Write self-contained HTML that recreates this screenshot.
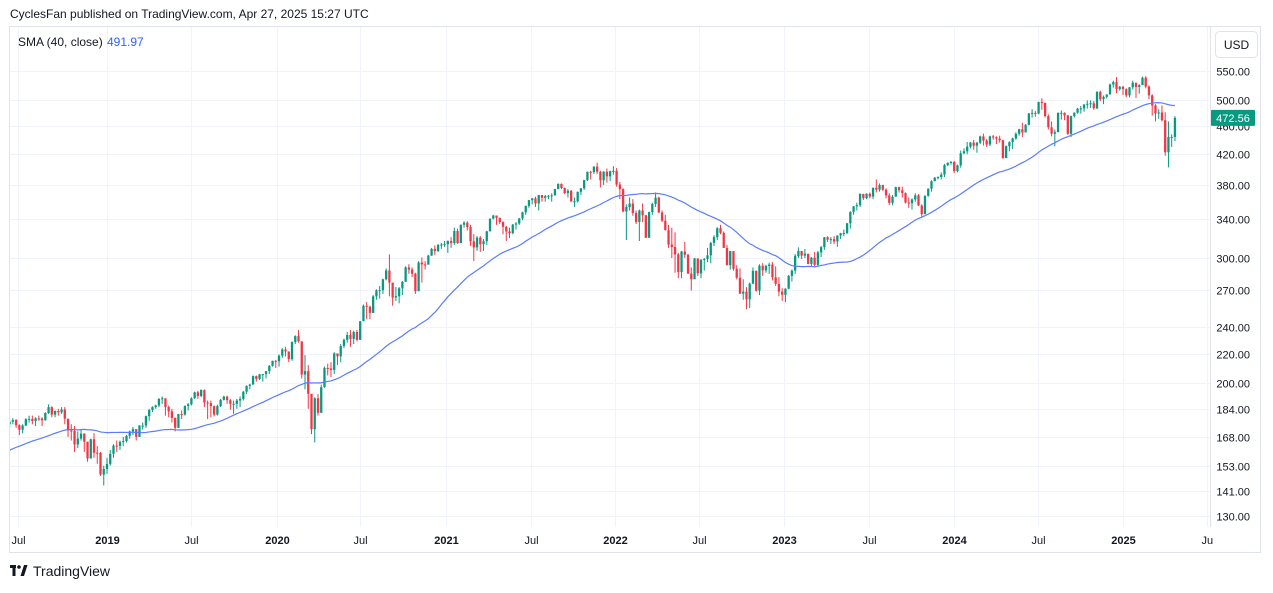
<!DOCTYPE html>
<html><head><meta charset="utf-8">
<style>
html,body{margin:0;padding:0;background:#fff;}
body{width:1273px;height:588px;overflow:hidden;font-family:"Liberation Sans",sans-serif;}
svg text{font-family:"Liberation Sans",sans-serif;}
</style></head>
<body>
<svg id="chart" width="1273" height="588" viewBox="0 0 1273 588" xmlns="http://www.w3.org/2000/svg">
  <text x="10" y="18" font-size="12" fill="#131722">CyclesFan published on TradingView.com, Apr 27, 2025 15:27 UTC</text>
  <rect x="9.5" y="26.5" width="1251" height="526" fill="#fff" stroke="#e0e3eb"/>
  <line x1="1210.5" y1="27" x2="1210.5" y2="527" stroke="#e0e3eb"/>
  <g id="grid"></g>
  <g id="ylabels"></g>
  <g id="xlabels"></g>
  <defs><clipPath id="plotclip"><rect x="10" y="27" width="1200" height="500"/></clipPath></defs>
  <g id="plot" clip-path="url(#plotclip)"></g>
  <g>
    <rect x="1215.5" y="31.5" width="42" height="26" rx="4" fill="#fff" stroke="#e0e3eb"/>
    <text x="1236.5" y="49" font-size="12" fill="#131722" text-anchor="middle">USD</text>
  </g>
  <g id="lastlabel"></g>
  <g>
    <text x="18" y="46" font-size="12" fill="#131722">SMA (40, close)</text>
    <text x="107" y="46" font-size="12" fill="#2962ff">491.97</text>
  </g>
  <g>
    <rect x="10" y="565" width="6" height="3" fill="#131722"/>
    <rect x="12.5" y="565" width="3" height="11" fill="#131722"/>
    <circle cx="19" cy="567" r="1.8" fill="#131722"/>
    <polygon points="20.5,576 24,565 27.5,565 24,576" fill="#131722"/>
    <text x="33" y="576" font-size="14" fill="#131722">TradingView</text>
  </g>
</svg>
<script>
// ---- data (weekly) ----
const preCloses = [145.9,144.4,147.5,146.2,148.0,150.0,151.1,150.8,154.9,156.3,156.0,156.3,158.3,154.9,155.9,159.5,158.4,156.9,162.4,165.9,168.0,171.7,164.7,158.8,166.0,168.8,167.4,174.6,171.9,160.1,160.3,156.4,161.2,163.3,162.9,166.4,170.1,168.6,170.8,172.8];
const firstOpen = 175;
const closes = [
176.5,177.4,174.5,171.9,174.3,177.9,178.1,176.9,178.4,178.3,177.3,181.5,185.0,180.6,182.7,181.9,183.6,178.2,171.5,171.3,163.9,167.1,169.8,165.4,156.6,166.7,159.6,159.5,148.7,151.4,153.9,
159.0,163.3,163.1,165.3,165.7,168.6,171.0,172.3,168.0,174.3,174.3,179.7,183.3,185.0,186.0,190.0,190.4,185.1,182.5,178.6,173.0,180.9,180.6,185.7,186.7,190.4,194.1,191.8,195.5,187.8,187.4,185.6,180.6,185.6,189.4,191.4,189.2,187.0,187.0,189.0,190.0,194.5,198.2,199.0,204.6,202.7,205.8,205.9,207.9,211.5,215.0,214.6,
218.6,223.0,221.6,216.2,228.4,232.9,229.0,205.6,207.9,193.2,172.3,190.4,181.6,197.4,210.0,209.7,208.7,220.2,218.1,225.5,230.1,233.7,230.8,236.0,230.1,244.4,257.0,256.2,251.1,264.9,270.2,270.3,280.0,288.1,277.0,263.9,265.0,271.9,277.7,291.0,288.9,285.1,269.4,295.6,293.8,293.6,302.4,309.0,306.8,313.0,313.4,313.7,
317.1,314.9,327.4,314.8,334.1,336.4,331.6,316.6,310.5,320.5,313.7,316.8,327.1,340.9,344.3,341.7,337.0,331.9,327.0,325.3,334.3,335.5,341.0,347.9,355.2,361.9,363.9,358.0,367.9,364.6,366.6,367.1,367.6,375.1,381.5,376.4,370.3,372.9,360.3,360.5,371.8,376.0,386.1,396.7,396.3,403.4,396.8,385.9,396.9,390.9,397.6,397.9,
380.7,375.0,348.8,353.9,357.9,347.2,337.2,350.0,344.6,320.4,348.2,357.4,364.9,347.7,338.6,328.3,313.4,310.9,303.6,286.6,306.4,303.1,285.2,280.0,299.6,285.4,298.2,299.1,302.6,315.0,321.0,330.4,325.5,310.0,293.1,306.8,289.7,281.4,267.3,269.0,262.4,276.0,287.8,269.9,292.6,288.2,292.4,293.7,281.8,275.9,269.0,266.3,
271.6,283.1,288.0,301.9,306.9,302.3,304.2,294.3,300.3,293.4,305.5,310.7,320.9,318.4,318.9,316.5,322.6,325.0,325.3,335.7,348.4,354.7,356.0,369.3,364.2,369.4,366.2,376.6,374.4,380.0,374.3,367.5,358.7,366.0,377.5,373.7,370.3,359.1,358.3,362.7,367.5,355.7,345.8,367.0,375.6,384.7,389.2,390.0,393.2,405.3,408.4,409.5,
397.6,405.2,421.2,424.0,430.4,436.1,431.8,436.0,444.9,439.0,433.5,445.0,444.0,441.8,439.4,414.7,431.0,436.7,442.1,448.7,455.4,450.7,462.0,479.2,480.2,479.1,497.3,496.2,475.2,458.3,448.8,451.0,480.0,480.3,476.3,448.7,475.0,480.5,486.8,487.3,493.4,494.5,495.4,487.4,514.1,502.0,505.8,509.7,526.5,530.5,518.7,522.6,518.6,
508.2,521.7,529.6,522.3,525.4,538.2,523.0,508.2,491.8,479.4,480.8,468.9,422.7,444.0,444.1,472.56];
const highs = [
178,178.5,178,175,175,178.5,180,180,179,180,179,182,186.7,185.5,183,184,185,185,178,175,174,171,172,170,163,167,170,163,160,153,157,
161,164,166,166,168,169,171.5,173.5,172,174.5,176,180,184,185.5,186.5,190.5,191.5,189,186,184,179,181,183,186,187.5,191,194.5,195,196,196,189,189,186,186.5,190,192,192,190,189,190,191.5,195,198.5,199.5,205,205,206,206,208,212,215,215.5,
219.5,224,225,221.5,229,233.5,237.5,227,219,212,190,191,193,199,211,213,214,221,220,227,231,236,237.5,237,237.5,244.5,258,260,257,266,271,274,280.5,290,303.5,276,273,273,278.5,292,294,291,286,297,300.5,297,303,310,312.5,314,315,317,
317.5,321,331,330,334.5,338,338,334,324,322,322,319,327.5,341,345,343,342,338,333,331,335,337,341.5,348.5,355.5,362,364.5,366,368,368,368,368,370,375.5,382,382,377,375,374,365,372,376.5,386.5,397,398,404,408.7,398,397.5,401,398,404,
401.5,384,376,357,365,363,350,351,358,345,348.5,359,371,366,350,345,334,331,326,305,307,316,304,291,300,297,299,300,310,316,323,331.6,334,327,313,307,306,293,290,280,273,277,291,288,294,295,293.5,295.5,296,292,282,272,
272,284,289,304,310.5,306,309,301,301,306,307,312,321,322,321,322,323,325.5,329,336,349,355,359,370,369,370,371,377,387,382,380.5,376,370,368,378,378,378,371,365,364,370,369,357,367.5,376,386,390,391,396,407,409,411,
411,406,425,428,437,437,440,437,446,449,441,446,447,445,446,440,432,438,443,451,456,465,463,480,486,483,498,503.5,496,478,467,455,481,484,481,477,476,481,488,491,494,500,500,499,515,516,508,510,528,533,539.2,524,524,
520,522,533,525,527,540,540.8,525,510,494,486,492,481,467,448,475];
const lows = [
173,175,173,169,170,174,176,175,174,177,174,177,181,179,179,180,181,175,168,166,160,162,166,160,155,157,157,154,148,143.5,149,
153,157,160,161,163,165,167,169,166,168,172,173,177,182,184,185,187,180,179,176,171,173,178,180,183,186,190,190,191,185,178,179,179.5,180,185,189,187,183.5,181,184,185,189,193,196,199,201,202,201,203,206,211,210,
211,217,218,214,215,227,228,203,196,184,169.5,165,180,182,197,205,204,206,212,214,224,228,225,227,229,230,245,246,246,251,262,263,267,279,265,257,261,259,266,280,285,282,267,272,277,289,294,302,303,306,309,311,
305,310,313,314,316,331,328,312,297,307,306,307,313,327,340,334,335,324,317,320,324,329,334,339,345,353,357,354,350,360,360,363,360,367,375,375,369,365,360,354,359,368,374,385,387,394,394,377,380,383,385,393,
378,363,348,318,350,344,335,317,337,320,320,345,354,347,337,328,310,300,286,281,281,300,285,270,281,283,281,288,296,295,312,318,324,310,293,289,288,280,267,262,254,255,276,269,266,283,286,285,279,274,265,261,
260,271,278,285,300,299,300,294,292,291,292,301,308,316,314,314,311,319,322,324,330,345,350,354,362,363,364,363,371,372,373,364,356,356,366,371,365,358,353,351,360,355,343,346,366,372,385,387,387,390,404,406,
395,396,402,420,420,428,426,422,434,432,430,431,440,434,436,414,418,424,427,440,446,444,451,461,473,474,478,485,473,455,445,431,452,470,469,447,444,473,479,479,482,487,488,485,486,499,494,503,510,521,512,516,509,
505,505,518,504,511,526,520,502,476,467,471,467,418,402.4,430,438];
const priceTicks = [550,500,460,420,380,340,300,270,240,220,200,184,168,153,141,130];
const timeTickLabels = ["Jul","2019","Jul","2020","Jul","2021","Jul","2022","Jul","2023","Jul","2024","Jul","2025","Jul"];
const timeTickIndex = [2.6,30,56,82.5,108,134.5,160.5,186.5,212.4,238.6,264.6,290.9,316.8,343,369];
const smaPeriod = 40;

// ---- scales ----
const NS = "http://www.w3.org/2000/svg";
const X0 = 107, I0 = 30, STEP = 3.246;
function xScale(i){ return X0 + (i - I0) * STEP; }
const Y550 = 71, PXLN = 308.5;
function yScale(p){ return Y550 + (Math.log(550) - Math.log(p)) * PXLN; }
function mk(tag, attrs){ const e = document.createElementNS(NS, tag); for (const k in attrs) e.setAttribute(k, attrs[k]); return e; }

const grid = document.getElementById('grid');
const ylabels = document.getElementById('ylabels');
const xlabels = document.getElementById('xlabels');
const plot = document.getElementById('plot');

priceTicks.forEach(p => {
  const y = Math.round(yScale(p)) + 0.5;
  const ln = mk('line', {x1:10, x2:1210, y1:y, y2:y, stroke:'#f0f3fa'});
  
  
  grid.appendChild(ln);
  const t = mk('text', {x:1250, y:y+4, 'font-size':11, fill:'#131722', 'text-anchor':'end'});
  
  
  t.textContent = p.toFixed(2);
  ylabels.appendChild(t);
});
timeTickIndex.forEach((ti, k) => {
  const x = Math.round(xScale(ti)) + 0.5;
  const ln = mk('line', {x1:x, x2:x, y1:27, y2:527, stroke:'#f0f3fa'});
  
  
  grid.appendChild(ln);
  const t = mk('text', {x:x, y:544, 'font-size':11, fill:'#131722', 'text-anchor':'middle'});
  
  
  if (timeTickLabels[k] === '2019' || /^\d{4}$/.test(timeTickLabels[k])) t.setAttribute('font-weight', 'bold');
  t.textContent = timeTickLabels[k];
  if (x > 1200) { t.setAttribute('text-anchor','start'); t.setAttribute('x', x - 6); t.textContent = 'Ju'; }
  xlabels.appendChild(t);
});

// candles
for (let i = 0; i < closes.length; i++) {
  const o = i === 0 ? firstOpen : closes[i-1];
  const c = closes[i];
  const col = c >= o ? '#089981' : '#f23645';
  const x = xScale(i);
  const g = mk('g', {});
  
  
  const w = mk('line', {x1:x, x2:x, y1:yScale(highs[i]), y2:yScale(lows[i]), stroke:col, 'stroke-width':1});
  
  
  const yt = yScale(Math.max(o,c)), yb = yScale(Math.min(o,c));
  const b = mk('rect', {x:x-1.15, y:yt, width:2.3, height:Math.max(1, yb-yt), fill:col});
  
  
  g.appendChild(w); g.appendChild(b);
  plot.appendChild(g);
}

// SMA
const all = preCloses.concat(closes);
let d = '';
for (let i = 0; i < closes.length; i++) {
  const j = i + preCloses.length;
  if (j + 1 < smaPeriod) continue;
  let s = 0; for (let k = j - smaPeriod + 1; k <= j; k++) s += all[k];
  const v = s / smaPeriod;
  d += (d ? 'L' : 'M') + xScale(i).toFixed(2) + ',' + yScale(v).toFixed(2);
}
const sma = mk('path', {d:d, fill:'none', stroke:'#5b7cff', 'stroke-width':1.2});


plot.appendChild(sma);

// last price label
const last = closes[closes.length-1];
const ly = yScale(last);
const lg = document.getElementById('lastlabel');
const lr = mk('rect', {x:1211, y:ly-8, width:44, height:16, fill:'#089981', rx:1});


const lt = mk('text', {x:1233, y:ly+4, 'font-size':11, fill:'#fff', 'text-anchor':'middle'});


lt.textContent = last.toFixed(2);
lg.appendChild(lr); lg.appendChild(lt);
</script>
</body></html>
